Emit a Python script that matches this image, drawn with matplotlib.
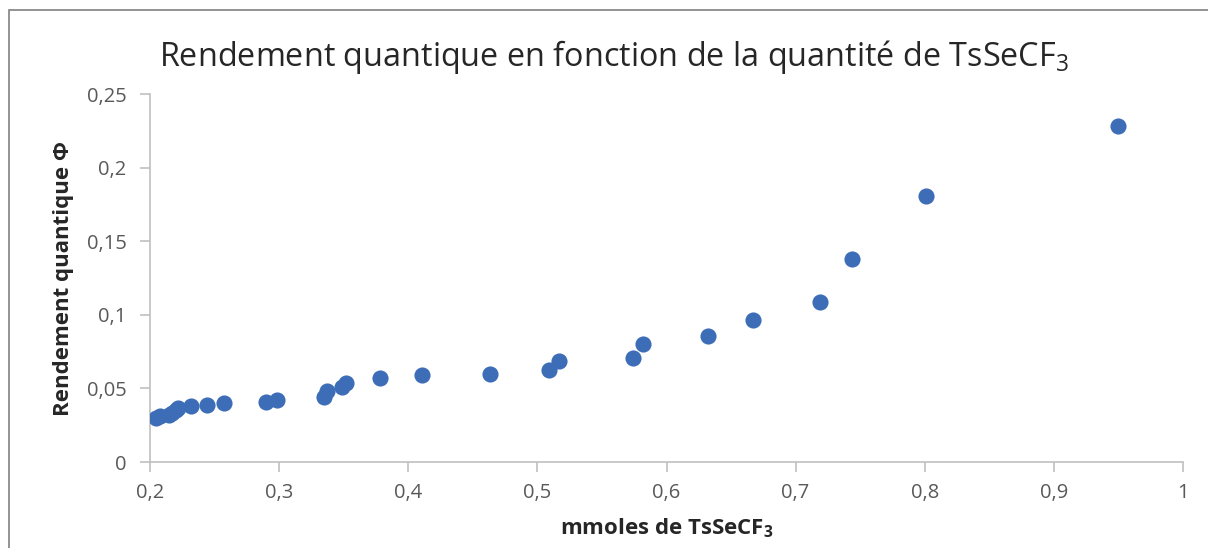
import numpy as np
import matplotlib.pyplot as plt
from matplotlib.patches import Rectangle

# quantum yield vs amount of TsSeCF3
mmol = [0.205, 0.208, 0.215, 0.217, 0.220, 0.222, 0.232, 0.244, 0.257,
        0.290, 0.298, 0.335, 0.337, 0.349, 0.352, 0.378, 0.411, 0.463,
        0.509, 0.517, 0.574, 0.582, 0.632, 0.667, 0.719, 0.744, 0.801, 0.950]
phi = [0.030, 0.031, 0.032, 0.033, 0.035, 0.037, 0.038, 0.039, 0.040,
       0.041, 0.042, 0.044, 0.048, 0.051, 0.054, 0.057, 0.059, 0.060,
       0.0625, 0.0686, 0.0707, 0.080, 0.0856, 0.0965, 0.109, 0.138, 0.181, 0.228]

xticks = [0.2, 0.3, 0.4, 0.5, 0.6, 0.7, 0.8, 0.9, 1.0]
xlabels = ['0,2', '0,3', '0,4', '0,5', '0,6', '0,7', '0,8', '0,9', '1']
yticks = [0, 0.05, 0.1, 0.15, 0.2, 0.25]
ylabels = ['0', '0,05', '0,1', '0,15', '0,2', '0,25']

plt.rcParams['font.family'] = ['Open Sans', 'DejaVu Sans']
plt.rcParams['mathtext.fontset'] = 'custom'
plt.rcParams['mathtext.rm'] = 'Open Sans'
plt.rcParams['mathtext.bf'] = 'Open Sans:bold'

W, H = 1208, 548
fig = plt.figure(figsize=(W / 100, H / 100), dpi=100)
ax = fig.add_axes([150 / W, 1 - 462 / H, (1183 - 150) / W, (462 - 94) / H])

ax.scatter(mmol, phi, s=135, color='#3d6db6', zorder=3, linewidths=0)

ax.set_xlim(0.2, 1.0)
ax.set_ylim(0, 0.25)
ax.set_xticks(xticks)
ax.set_xticklabels(xlabels)
ax.set_yticks(yticks)
ax.set_yticklabels(ylabels)

for s in ['top', 'right']:
    ax.spines[s].set_visible(False)
for s in ['left', 'bottom']:
    ax.spines[s].set_color('#c0c0c0')
    ax.spines[s].set_linewidth(1.2)
ax.tick_params(length=7, width=1.2, color='#c0c0c0', labelcolor='#595959',
               labelsize=14.5)
ax.tick_params(axis='y', pad=10)
ax.tick_params(axis='x', pad=8)

ax.set_xlabel(r'mmoles de TsSeCF$_\mathbf{3}$', fontsize=16, fontweight='bold',
              color='#262626', labelpad=10)
ax.set_ylabel('Rendement quantique Φ', fontsize=16, fontweight='bold',
              color='#262626', labelpad=9)

fig.text(614 / W, 1 - 57 / H, r'Rendement quantique en fonction de la quantité de TsSeCF$_3$',
         ha='center', va='center', fontsize=23.3, color='#262626')

# chart area frame
fig.patches.append(Rectangle((9 / W, -0.2), 1.2, 1.2 - 10 / H, transform=fig.transFigure,
                             fill=False, edgecolor='#808080', linewidth=1.2))

fig.savefig('out.png', dpi=100)
